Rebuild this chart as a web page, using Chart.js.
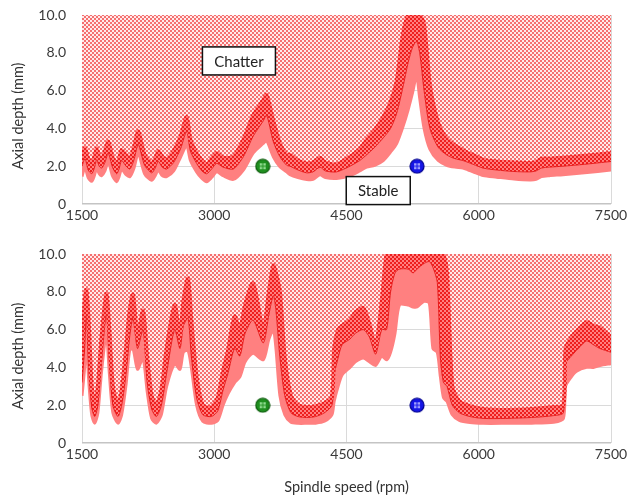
<!DOCTYPE html>
<html>
<head>
<meta charset="utf-8">
<script src="https://cdn.jsdelivr.net/npm/chart.js@4.4.1/dist/chart.umd.min.js"></script>
<style>
  html, body { margin: 0; padding: 0; background: #ffffff; }
  #wrap { position: relative; width: 628px; height: 498px; overflow: hidden; }
  #c1 { position: absolute; left: 0; top: 0; }
  #c2 { position: absolute; left: 0; top: 240px; }
</style>
</head>
<body>
<div id="wrap">
  <canvas id="c1" width="628" height="232"></canvas>
  <canvas id="c2" width="628" height="258"></canvas>
</div>
<script>
// ---------- DATA ----------
// Top panel: spindle speed (rpm) and stability-limit band (mm)
const speedTop = [1500,1534,1570,1610,1640,1667,1695,1723,1760,1798,1845,1893,1920,1950,2000,2044,2090,2138,2210,2290,
  2330,2365,2410,2460,2540,2620,2687,2730,2800,2860,2914,2970,3028,3100,3216,3330,3443,3556,3594,3670,
  3745,3821,3859,3950,4048,4120,4199,4260,4388,4539,4650,4728,4820,4917,5000,5069,5141,5200,5250,5295,
  5330,5380,5446,5540,5636,5730,5821,5880,5936,6050,6202,6400,6580,6650,6710,6800,6955,7200,7500];
const upperTop = [2.75,2.95,2.4,2.15,2.5,2.95,2.5,2.35,2.8,3.3,2.5,2.1,2.4,2.85,2.6,2.4,3.0,3.85,2.6,2.15,
  2.4,2.8,2.5,2.35,2.8,3.6,4.6,3.4,2.7,2.3,2.1,2.4,2.7,2.45,2.5,3.4,4.7,5.5,5.77,4.4,
  3.2,2.6,2.6,2.3,2.15,2.2,2.45,2.2,2.1,2.5,2.9,3.4,3.9,4.6,5.4,6.5,9.0,10,10,10,
  10,9.5,6.3,4.3,3.45,3.1,2.85,2.7,2.6,2.35,2.25,2.2,2.17,2.22,2.4,2.4,2.45,2.55,2.7];
const midTop = [2.0,2.4,1.8,1.6,1.9,2.35,2.0,1.9,2.2,2.7,1.95,1.6,1.85,2.3,2.0,1.85,2.35,3.15,2.05,1.65,
  1.9,2.25,1.95,1.85,2.2,2.95,3.85,2.8,2.15,1.75,1.6,1.85,2.15,1.95,1.85,2.5,3.6,4.4,4.7,3.3,
  2.5,2.05,2.0,1.8,1.65,1.7,1.95,1.75,1.7,2.0,2.3,2.6,3.0,3.5,4.0,4.8,6.2,7.5,8.3,8.6,
  8.0,6.0,4.0,3.0,2.6,2.4,2.3,2.2,2.1,1.9,1.8,1.72,1.7,1.75,1.9,1.95,2.0,2.1,2.25];
const lowerTop = [1.45,1.95,1.4,1.2,1.5,1.9,1.6,1.5,1.75,2.25,1.5,1.18,1.45,1.85,1.55,1.45,1.9,2.7,1.6,1.25,
  1.5,1.8,1.5,1.45,1.75,2.5,3.1,2.3,1.7,1.35,1.18,1.4,1.7,1.5,1.3,1.8,2.7,3.2,3.35,2.5,
  1.97,1.7,1.55,1.4,1.3,1.3,1.55,1.4,1.35,1.5,1.75,1.95,2.05,2.3,2.75,3.2,4.1,5.0,5.9,6.8,
  5.6,4.0,2.9,2.3,2.05,1.95,1.9,1.8,1.7,1.5,1.42,1.32,1.27,1.3,1.45,1.5,1.55,1.65,1.8];

// Bottom panel
const speedBottom = [1500,1530,1549,1575,1610,1644,1680,1720,1776,1810,1850,1908,1950,2000,2040,2078,2130,2192,2240,2290,
  2343,2400,2460,2551,2611,2650,2702,2740,2800,2870,2967,3040,3100,3156,3231,3290,3350,3440,3556,3620,
  3670,3700,3745,3800,3870,3950,4048,4150,4250,4335,4360,4405,4450,4539,4600,4690,4760,4830,4900,4955,
  5000,5050,5100,5200,5255,5300,5380,5440,5480,5530,5565,5600,5640,5700,5780,5900,6050,6300,6600,6850,
  6960,6985,7050,7109,7223,7300,7374,7500];
const upperBottom = [5.0,7.5,8.1,6.5,3.0,2.0,3.0,5.5,7.9,6.0,3.0,2.0,2.8,5.0,7.0,7.85,5.6,7.0,4.5,2.5,
  2.0,2.8,5.0,7.3,5.6,7.5,8.7,6.5,3.5,2.0,1.9,2.4,3.8,4.9,6.7,6.0,7.3,8.45,6.0,8.0,
  9.4,9.0,8.0,4.5,2.5,2.0,1.9,1.95,2.1,2.45,5.0,6.0,6.2,6.5,6.9,7.15,6.3,5.1,7.5,10,
  10,10,10,10,10,10,10,10,10,10,10,10,9.0,3.0,2.2,1.95,1.8,1.75,1.8,1.9,
  2.0,5.0,5.6,5.9,6.4,6.2,6.1,5.6];
const midBottom = [3.2,5.0,6.8,4.0,1.9,1.4,2.0,4.2,6.8,4.3,2.0,1.4,2.0,3.7,5.6,6.6,5.0,6.0,3.2,1.8,
  1.4,2.0,3.7,6.0,5.0,6.2,6.6,4.6,2.4,1.5,1.4,1.7,2.8,3.7,5.0,4.6,5.8,6.5,5.3,6.8,
  7.8,7.0,4.5,2.5,1.6,1.4,1.35,1.4,1.6,2.0,3.6,4.5,5.2,5.5,5.8,6.0,5.6,4.7,6.0,6.0,
  8.0,9.0,9.2,9.2,9.0,9.2,9.5,9.6,9.3,8.5,4.5,3.2,3.0,2.0,1.6,1.4,1.3,1.3,1.35,1.45,
  1.6,4.2,4.6,4.9,5.4,5.2,5.0,4.8];
const lowerBottom = [2.5,4.0,5.6,3.4,1.5,1.05,1.6,3.7,5.8,3.7,1.6,1.05,1.5,3.1,4.9,5.0,3.9,4.5,2.7,1.3,
  1.05,1.5,3.0,4.2,3.9,4.8,4.9,4.0,2.0,1.15,1.04,1.2,2.0,2.6,3.2,3.5,4.3,4.75,4.4,5.5,
  6.0,5.0,2.5,1.5,1.1,1.04,1.04,1.05,1.15,1.5,2.2,3.0,3.6,4.0,4.3,4.5,4.3,4.1,4.6,4.4,
  4.8,5.8,7.3,7.3,7.2,7.2,7.5,7.4,5.0,4.8,3.5,2.4,2.2,1.5,1.2,1.08,1.04,1.04,1.05,1.1,
  1.3,3.0,3.5,3.8,4.0,4.0,4.1,4.2];

// Test cuts (same in both panels)
const testSpeeds = [3550, 5300];
const testDepths = [2.0, 2.0];

// Axis ticks
const speedTicks = [1500, 3000, 4500, 6000, 7500];
const depthLabels = ['0', '2.0', '4.0', '6.0', '8.0', '10.0'];

// Text boxes in the top panel
const boxTexts = ['Chatter', 'Stable'];
const boxSpeeds = [3280, 4860];
const boxDepths = [7.57, 0.71];

// ---------- STYLES ----------
const FONT = 'Lato, "Open Sans", sans-serif';
Chart.defaults.font.family = FONT;
Chart.defaults.font.size = 14;
Chart.defaults.color = '#3a3a3a';

function checker(ctx, c1, c2, s) {
  const cv = document.createElement('canvas');
  cv.width = cv.height = s * 2;
  const g = cv.getContext('2d');
  g.fillStyle = c2; g.fillRect(0, 0, s * 2, s * 2);
  g.fillStyle = c1; g.fillRect(0, 0, s, s); g.fillRect(s, s, s, s);
  return ctx.createPattern(cv, 'repeat');
}
function marker(fill, edge, dot) {
  const cv = document.createElement('canvas');
  cv.width = cv.height = 16;
  const g = cv.getContext('2d');
  g.beginPath(); g.arc(8, 8, 7, 0, Math.PI * 2);
  g.fillStyle = fill; g.fill();
  g.lineWidth = 1.2; g.strokeStyle = edge; g.stroke();
  g.fillStyle = dot;
  g.fillRect(5, 5, 2.5, 2.5); g.fillRect(8.5, 5, 2.5, 2.5); g.fillRect(5, 8.5, 2.5, 2.5); g.fillRect(8.5, 8.5, 2.5, 2.5);
  return cv;
}
const markerGreen = marker('#1f8f1f', '#0b5a0b', '#8fdc8f');
const markerBlue = marker('#1515e6', '#00008a', '#a0a0ff');

function pts(xs, ys) { return xs.map((x, i) => ({ x: x, y: ys[i] })); }

const overlay = {
  id: 'overlay',
  afterDraw(chart, args, o) {
    const ctx = chart.ctx;
    ctx.save();
    ctx.fillStyle = '#333';
    ctx.font = '14.5px ' + FONT;
    ctx.textAlign = 'center'; ctx.textBaseline = 'middle';
    ctx.translate(18, o.yTitleY); ctx.rotate(-Math.PI / 2);
    ctx.fillText('Axial depth (mm)', 0, 0);
    ctx.restore();
    if (o.xTitle) {
      ctx.save();
      ctx.fillStyle = '#333';
      ctx.font = '14.5px ' + FONT;
      ctx.textAlign = 'center'; ctx.textBaseline = 'middle';
      ctx.fillText(o.xTitle, (chart.chartArea.left + chart.chartArea.right) / 2, o.xTitleY);
      ctx.restore();
    }
    if (o.boxes) {
      const sx = chart.scales.x, sy = chart.scales.y;
      ctx.save();
      ctx.font = '15px ' + FONT;
      ctx.textAlign = 'center'; ctx.textBaseline = 'middle';
      boxTexts.forEach((t, i) => {
        const cx = sx.getPixelForValue(boxSpeeds[i]);
        const cy = sy.getPixelForValue(boxDepths[i]);
        const w = Math.round(ctx.measureText(t).width + 24), h = 28;
        ctx.fillStyle = '#fff';
        ctx.fillRect(cx - w / 2, cy - h / 2, w, h);
        ctx.lineWidth = 1.5; ctx.strokeStyle = '#111';
        ctx.strokeRect(cx - w / 2, cy - h / 2, w, h);
        ctx.fillStyle = '#222';
        ctx.fillText(t, cx, cy + 1);
      });
      ctx.restore();
    }
  }
};

function makeChart(id, speed, upper, mid, lower, cfg) {
  const canvas = document.getElementById(id);
  const ctx = canvas.getContext('2d');
  const lightPat = checker(ctx, 'rgb(245,112,112)', 'rgb(255,234,234)', 2);
  const darkPat = checker(ctx, 'rgb(238,30,30)', 'rgb(255,128,128)', 2);
  const lightSolid = 'rgb(255,128,128)';
  const common = { pointRadius: 0, pointHoverRadius: 0, tension: 0.25, clip: 0 };
  return new Chart(ctx, {
    type: 'line',
    data: {
      datasets: [
        Object.assign({ data: pts(speed, upper), fill: 'end', backgroundColor: lightPat,
          borderColor: darkPat, borderWidth: 4, borderJoinStyle: 'round', order: 1 }, common),
        Object.assign({ data: pts(speed, mid), fill: '-1', backgroundColor: darkPat,
          borderColor: 'rgba(228,10,10,0.85)', borderWidth: 1, order: 2 }, common),
        Object.assign({ data: pts(speed, lower), fill: '-1', backgroundColor: lightSolid,
          borderColor: lightSolid, borderWidth: 3, borderJoinStyle: 'round', order: 3 }, common),
        { data: pts(testSpeeds, testDepths), showLine: false, pointStyle: [markerGreen, markerBlue],
          pointRadius: 7, order: 0, clip: false }
      ]
    },
    options: {
      responsive: false, animation: false, devicePixelRatio: 1,
      layout: { autoPadding: false, padding: { left: 0, right: 17, top: cfg.top, bottom: 0 } },
      plugins: { legend: { display: false }, tooltip: { enabled: false }, overlay: cfg.overlay },
      scales: {
        x: {
          type: 'linear', min: 1500, max: 7500,
          afterFit: s => { s.height = cfg.xHeight; s.paddingLeft = 0; s.paddingRight = 0; },
          afterBuildTicks: s => { s.ticks = speedTicks.map(v => ({ value: v })); },
          ticks: { padding: 3, callback: v => String(v), maxRotation: 0 },
          grid: { color: '#dadada', lineWidth: 1, drawTicks: false },
          border: { display: false }
        },
        y: {
          min: 0, max: 10,
          afterFit: s => { s.width = 82; s.paddingTop = 0; s.paddingBottom = 0; },
          ticks: { stepSize: 1, padding: 16,
            callback: v => (v % 2 === 0 ? depthLabels[v / 2] : '') },
          grid: { drawTicks: false, color: c => (c.tick && c.tick.value === 0 ? '#c4c4c4' : '#dadada'),
            lineWidth: c => (c.tick && c.tick.value === 0 ? 1.5 : 1) },
          border: { display: false }
        }
      }
    },
    plugins: [overlay]
  });
}

makeChart('c1', speedTop, upperTop, midTop, lowerTop, {
  top: 15, xHeight: 28,
  overlay: { yTitleY: 116, boxes: true }
});
makeChart('c2', speedBottom, upperBottom, midBottom, lowerBottom, {
  top: 14, xHeight: 55,
  overlay: { yTitleY: 116, xTitle: 'Spindle speed (rpm)', xTitleY: 247 }
});
</script>
</body>
</html>
